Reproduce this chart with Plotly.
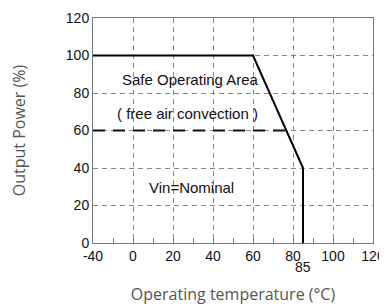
import plotly.graph_objects as go

# Derating curve (real temperature values, °C / %)
curve_temp = [-40, 60, 85, 85]
curve_power = [100, 100, 40, 0]

# 60% dashed reference line
ref_temp = [-40, 76.7]
ref_power = [60, 60]

x_tick_values = [-40, 0, 20, 40, 60, 80, 100, 120]
x_tick_labels = ["-40", "0", "20", "40", "60", "80", "100", "120"]
y_tick_values = [0, 20, 40, 60, 80, 100, 120]

notes = ["Safe Operating Area", "( free air convection )", "Vin=Nominal"]
note_temp = [28.5, 27, 29]
note_power = [87, 69, 29.5]


def pos(t):
    # broken axis: -40..0 is compressed to one grid step
    return t if t >= 0 else t / 2.0


NARROW = "Liberation Sans Narrow, Arial Narrow, Liberation Sans, Arial"
TITLEF = "Open Sans, Noto Sans, sans-serif"

fig = go.Figure()
fig.add_trace(go.Scatter(
    x=[pos(t) for t in ref_temp], y=ref_power, mode="lines",
    line=dict(color="#111111", width=2, dash="12px,8px"),
    hoverinfo="skip", showlegend=False))
fig.add_trace(go.Scatter(
    x=[pos(t) for t in curve_temp], y=curve_power, mode="lines",
    line=dict(color="#000000", width=2),
    hoverinfo="skip", showlegend=False))

for txt, tx, py in zip(notes, note_temp, note_power):
    fig.add_annotation(x=pos(tx), y=py, xref="x", yref="y", text=txt,
                       showarrow=False, font=dict(family=NARROW, size=15, color="#111111"))

fig.add_annotation(x=pos(85), y=0, xref="x", yref="paper", text="85", showarrow=False,
                   yanchor="middle", yshift=-24,
                   font=dict(family=NARROW, size=14, color="#111111"))

fig.update_xaxes(
    range=[pos(-40), pos(120)],
    tickvals=[pos(t) for t in x_tick_values], ticktext=x_tick_labels,
    showgrid=True, gridcolor="#888888", gridwidth=1, griddash="5px,4px",
    ticks="inside", ticklen=5, tickcolor="#777777",
    minor=dict(dtick=10, tick0=0, ticks="inside", ticklen=5, tickcolor="#777777", showgrid=False),
    showline=True, linecolor="#777777", linewidth=1, mirror=True,
    zeroline=False,
    tickfont=dict(family=NARROW, size=14, color="#111111"),
    title=dict(text="Operating temperature (°C)", standoff=26,
               font=dict(family=TITLEF, size=16, color="#555555")),
)
fig.update_yaxes(
    range=[0, 120], tickvals=y_tick_values,
    showgrid=True, gridcolor="#888888", gridwidth=1, griddash="5px,4px",
    ticks="", showline=True, linecolor="#777777", linewidth=1, mirror=True,
    zeroline=False,
    tickfont=dict(family=NARROW, size=14, color="#111111"),
    title=dict(text="Output Power (%)", standoff=36,
               font=dict(family=TITLEF, size=16, color="#555555")),
)
fig.update_layout(
    width=379, height=299,
    margin=dict(l=85, r=14, t=10, b=64, autoexpand=False),
    paper_bgcolor="white", plot_bgcolor="white",
)
fig.write_html("out.html")
